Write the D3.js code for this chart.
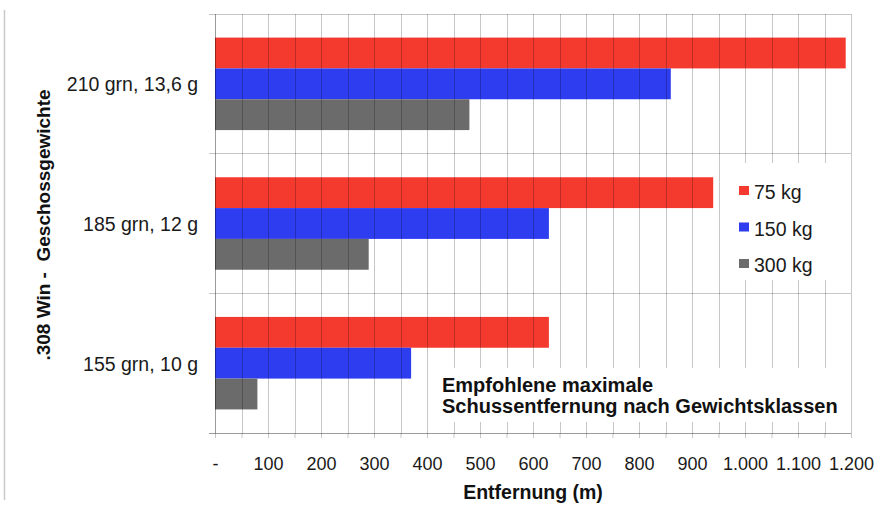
<!DOCTYPE html>
<html>
<head>
<meta charset="utf-8">
<script src="https://cdn.jsdelivr.net/npm/d3@7/dist/d3.min.js"></script>
<style>
  html, body { margin: 0; padding: 0; background: #fff; }
  svg { display: block; font-family: "Liberation Sans", Arial, Helvetica, sans-serif; }
  .pre { white-space: pre; }
</style>
</head>
<body>
<svg id="chart" width="893" height="506"></svg>
<script>
// Bullet weights (categories, top to bottom)
const categories = ["210 grn, 13,6 g", "185 grn, 12 g", "155 grn, 10 g"];
// Target body-weight classes (series)
const seriesNames = ["75 kg", "150 kg", "300 kg"];
const seriesColors = ["#f43a2f", "#2e3df0", "#6b6b6b"];
// Recommended maximum shooting distance in metres
const values75 = [1190, 940, 630];
const values150 = [860, 630, 370];
const values300 = [480, 290, 80];
// Labelled distance ticks
const xTickValues = [0, 100, 200, 300, 400, 500, 600, 700, 800, 900, 1000, 1100, 1200];

const seriesValues = [values75, values150, values300];
const rows = categories.map((c, i) => ({
  category: c,
  bars: seriesNames.map((s, j) => ({ series: s, value: seriesValues[j][i], color: seriesColors[j] }))
}));

const svg = d3.select("#chart");
const plot = { left: 215, right: 851, top: 14, bottom: 433 };

const x = d3.scaleLinear().domain([0, 1200]).range([plot.left, plot.right]);
const y0 = d3.scaleBand().domain(categories).range([plot.top, plot.bottom]).padding(0);
const y1 = d3.scaleBand().domain(seriesNames).range([0, y0.bandwidth()])
  .paddingInner(0).paddingOuter(0.765);

const de = d3.formatLocale({ decimal: ",", thousands: ".", grouping: [3], currency: ["", " €"] });
const fmt = de.format(",");

// thin frame line at the far left
svg.append("line")
  .attr("x1", 4.5).attr("x2", 4.5).attr("y1", 10).attr("y2", 500)
  .attr("stroke", "#c9c9c9").attr("stroke-width", 1.5);

// bars
const groups = svg.append("g").selectAll("g").data(rows).join("g")
  .attr("transform", d => `translate(0,${y0(d.category)})`);
groups.selectAll("rect").data(d => d.bars).join("rect")
  .attr("x", x(0))
  .attr("y", d => y1(d.series))
  .attr("width", d => x(d.value) - x(0))
  .attr("height", y1.bandwidth())
  .attr("fill", d => d.color);

// vertical grid every 50 m, drawn over the bars
const gridStroke = "rgba(0,0,0,0.22)";
const grid = svg.append("g")
  .attr("transform", `translate(0,${plot.bottom})`)
  .call(d3.axisBottom(x).tickValues(d3.range(0, 1201, 50)).tickSize(-(plot.bottom - plot.top)).tickFormat(""));
grid.select(".domain").remove();
grid.selectAll("line").attr("stroke", gridStroke).attr("shape-rendering", "crispEdges");

// horizontal separators between the bullet weights (with short stubs left of the axis)
const bounds = categories.map(c => y0(c)).concat([plot.bottom]);
svg.append("g").selectAll("line").data(bounds).join("line")
  .attr("x1", plot.left - 6).attr("x2", plot.right)
  .attr("y1", d => d).attr("y2", d => d)
  .attr("stroke", gridStroke).attr("shape-rendering", "crispEdges");

// left axis line
svg.append("line")
  .attr("x1", plot.left).attr("x2", plot.left)
  .attr("y1", plot.top).attr("y2", plot.bottom)
  .attr("stroke", gridStroke).attr("shape-rendering", "crispEdges");

// bottom axis: tick marks every 50 m, labels every 100 m
const xAxis = svg.append("g")
  .attr("transform", `translate(0,${plot.bottom})`)
  .call(d3.axisBottom(x)
    .tickValues(d3.range(0, 1201, 50))
    .tickSize(5)
    .tickPadding(19)
    .tickFormat(d => xTickValues.includes(d) ? (d === 0 ? "-" : fmt(d)) : ""));
xAxis.select(".domain").attr("stroke", gridStroke).attr("d", `M${plot.left - 6},0.5H${plot.right}`);
xAxis.selectAll("line").attr("stroke", gridStroke);
xAxis.selectAll("text").attr("font-size", 18).attr("fill", "#1a1a1a")
  .attr("font-family", "'Liberation Sans', Arial, sans-serif");

// category labels
const yAxis = svg.append("g")
  .attr("transform", `translate(${plot.left},0)`)
  .call(d3.axisLeft(y0).tickSize(0).tickPadding(17));
yAxis.select(".domain").remove();
yAxis.selectAll("text").attr("font-size", 19.5).attr("fill", "#1a1a1a")
  .attr("dy", "0.38em")
  .attr("font-family", "'Liberation Sans', Arial, sans-serif");

// legend
svg.append("rect")
  .attr("x", 722).attr("y", 163).attr("width", 127).attr("height", 117).attr("fill", "#fff");
const legend = svg.append("g").selectAll("g").data(seriesNames).join("g")
  .attr("transform", (d, i) => `translate(739,${199 + i * 36.5})`);
legend.append("rect")
  .attr("x", 0).attr("y", -13).attr("width", 10).attr("height", 9)
  .attr("fill", (d, i) => seriesColors[i]);
legend.append("text")
  .attr("x", 15).attr("y", 0)
  .attr("font-size", 19.5).attr("fill", "#1a1a1a")
  .text(d => d);

// annotation
svg.append("rect")
  .attr("x", 433).attr("y", 368).attr("width", 416).attr("height", 54).attr("fill", "#fff");
const note = svg.append("text")
  .attr("x", 442).attr("font-size", 20).attr("font-weight", "bold").attr("fill", "#111");
note.append("tspan").attr("x", 442).attr("y", 392).text("Empfohlene maximale");
note.append("tspan").attr("x", 442).attr("y", 413).text("Schussentfernung nach Gewichtsklassen");

// axis titles
svg.append("text")
  .attr("x", (plot.left + plot.right) / 2).attr("y", 499)
  .attr("text-anchor", "middle").attr("font-size", 19.5).attr("font-weight", "bold").attr("fill", "#111")
  .text("Entfernung (m)");

svg.append("text")
  .attr("class", "pre")
  .attr("transform", "translate(50,225) rotate(-90)")
  .attr("text-anchor", "middle").attr("font-size", 19).attr("font-weight", "bold").attr("fill", "#111")
  .text(".308 Win -  Geschossgewichte");
</script>
</body>
</html>
